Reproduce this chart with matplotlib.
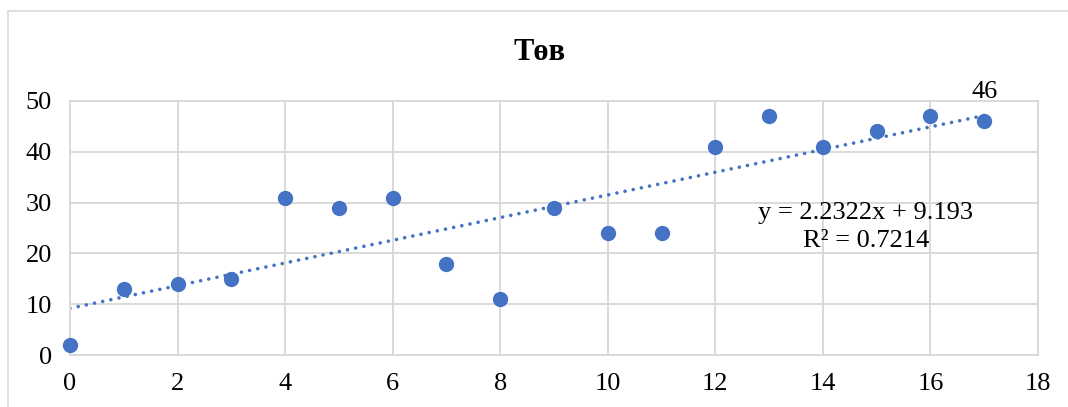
import numpy as np
import matplotlib.pyplot as plt
from matplotlib.patches import Rectangle

plt.rcParams['font.family'] = ['Liberation Serif', 'DejaVu Serif']

x = np.arange(18)
y = [2, 13, 14, 15, 31, 29, 31, 18, 11, 29, 24, 24, 41, 47, 41, 44, 47, 46]
title = 'Төв'
blue = '#4472C4'
grid = '#D9D9D9'

fig = plt.figure(figsize=(10.68, 4.07), dpi=100)
# chart frame (only top and left edges visible in the crop)
fig.patches.append(Rectangle((8/1068, -0.1), 1.2, (407-11)/407 + 0.1,
                             transform=fig.transFigure, fill=False,
                             edgecolor=grid, linewidth=1.2))

ax = fig.add_axes([70/1068, 52/407, (1038-70)/1068, (355-101)/407])
ax.set_xlim(0, 18)
ax.set_ylim(0, 50)
ax.set_xticks(range(0, 19, 2))
ax.set_yticks(range(0, 51, 10))
ax.grid(True, color=grid, linewidth=1.4)
ax.set_axisbelow(True)
for s in ax.spines.values():
    s.set_color(grid)
    s.set_linewidth(1.4)
ax.tick_params(length=0, labelsize=19)
ax.tick_params(axis='x', pad=13)
ax.tick_params(axis='y', pad=13)

# linear trendline
k, b = np.polyfit(x, y, 1)
r2 = np.corrcoef(x, y)[0, 1] ** 2
xt = np.array([0, 17])
ax.plot(xt, k * xt + b, color=blue, linestyle=(0, (0.01, 2.3)),
        linewidth=2.6, dash_capstyle='round', zorder=2)

ax.scatter(x, y, s=100, color=blue, zorder=3, clip_on=False)
ax.annotate(str(y[-1]), (x[-1], y[-1]), xytext=(0, 13), textcoords='offset points',
            ha='center', va='bottom', fontsize=19, annotation_clip=False)

ax.text(14.8, 27.95, f'y = {k:.4f}x + {b:.3f}', ha='center', va='center', fontsize=19)
ax.text(14.8, 22.44, f'R² = {r2:.4f}', ha='center', va='center', fontsize=19)

fig.text(540/1068, 1 - 53/407, title, ha='center', va='center',
         fontsize=22, fontweight='bold')

fig.savefig('out.png', dpi=100)
